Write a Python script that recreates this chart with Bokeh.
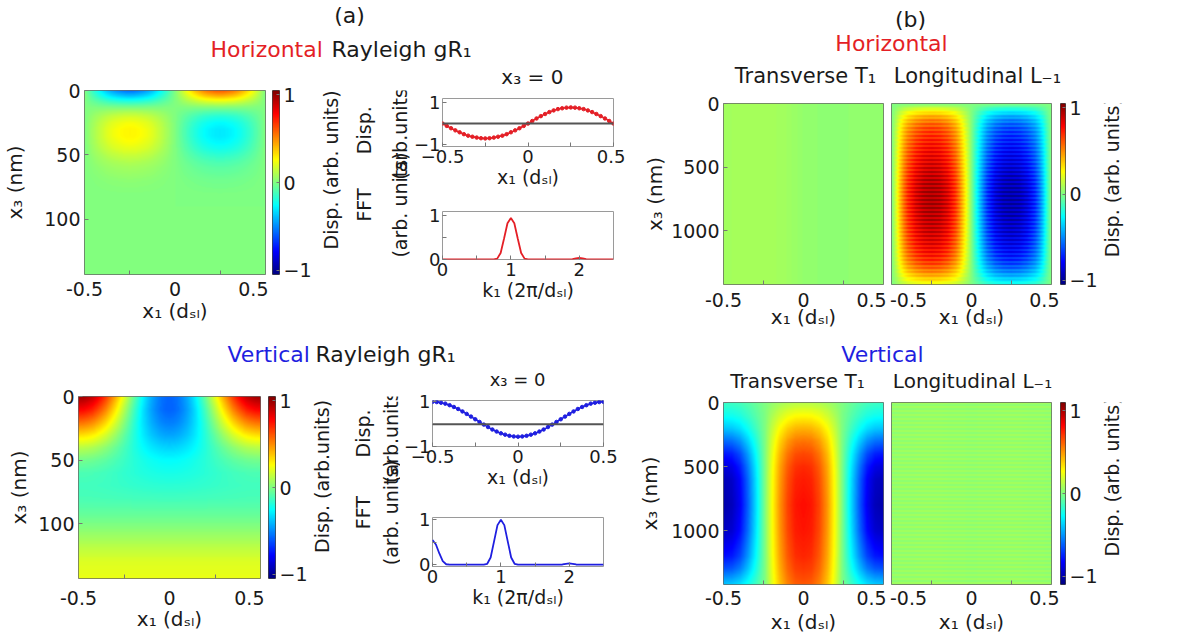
import numpy as np
from bokeh.plotting import figure
from bokeh.layouts import row, column
from bokeh.models import Range1d, FixedTicker, LinearColorMapper, Span
from bokeh.core.properties import value
from bokeh.embed import file_html
from bokeh.resources import INLINE

FONT = "DejaVu Sans"
TICK_FS = "19px"
SMALL_TICK_FS = "18px"
LAB_FS = "19px"
XLAB_FS = "20px"
TITLE_FS = "21px"
HEAD_FS = "22px"
RED = "#e41f26"
BLUE = "#1f1fe0"
INK = "#1a1a1a"

# ---------------- data ----------------
x1_line = np.linspace(-0.5, 0.5, 41)
disp_h = [0.00, -0.11, -0.22, -0.32, -0.41, -0.50, -0.57, -0.62, -0.66, -0.69, -0.70,
          -0.69, -0.66, -0.62, -0.57, -0.50, -0.41, -0.32, -0.22, -0.11, 0.00,
          0.12, 0.24, 0.35, 0.45, 0.54, 0.62, 0.68, 0.72, 0.75, 0.76,
          0.75, 0.72, 0.68, 0.62, 0.54, 0.45, 0.35, 0.24, 0.12, 0.00]
disp_v = [1.00, 0.99, 0.96, 0.92, 0.85, 0.77, 0.68, 0.57, 0.46, 0.34, 0.22,
          0.10, -0.02, -0.13, -0.24, -0.33, -0.41, -0.47, -0.52, -0.55, -0.56,
          -0.55, -0.52, -0.47, -0.41, -0.33, -0.24, -0.13, -0.02, 0.10, 0.22,
          0.34, 0.46, 0.57, 0.68, 0.77, 0.85, 0.92, 0.96, 0.99, 1.00]
k1 = np.linspace(0, 2.5, 51)
fft_h = [0, 0, 0, 0, 0, 0, 0, 0, 0, 0, 0, 0, 0, 0, 0,
         0.005, 0.02, 0.15, 0.48, 0.83, 0.95, 0.83, 0.48, 0.15, 0.02,
         0.005, 0, 0, 0, 0, 0, 0, 0, 0, 0, 0, 0, 0, 0.01, 0.025,
         0.035, 0.025, 0.01, 0, 0, 0, 0, 0, 0, 0, 0]
fft_v = [0.55, 0.45, 0.25, 0.08, 0.01, 0, 0, 0, 0, 0, 0, 0, 0, 0, 0,
         0, 0.02, 0.16, 0.52, 0.88, 1.0, 0.88, 0.52, 0.16, 0.02,
         0, 0, 0, 0, 0, 0, 0, 0, 0, 0, 0, 0, 0, 0.005, 0.02,
         0.03, 0.02, 0.005, 0, 0, 0, 0, 0, 0, 0, 0]

# (a) Rayleigh gR1 maps, depth 0..143 nm
x3_max_a = 143.0
hR_x3 = [0, 4, 8, 12, 16, 20, 25, 30, 35, 40, 45, 50, 55, 60, 70, 80, 90, 143]
hR_depth = [0.78, 0.55, 0.28, 0.05, -0.12, -0.25, -0.35, -0.4, -0.4, -0.36, -0.3,
            -0.22, -0.15, -0.1, -0.04, -0.01, 0.0, 0.0]
vR_x3 = [0, 10, 20, 30, 40, 50, 60, 70, 80, 90, 100, 110, 120, 130, 143]
vR_mean = [0.22, 0.12, 0.03, -0.05, -0.11, -0.14, -0.16, -0.15, -0.12, -0.07, -0.01,
           0.06, 0.13, 0.19, 0.22]
vR_amp = [1.0, 0.88, 0.7, 0.5, 0.3, 0.15, 0.07, 0.03, 0.01, 0.0, 0.0, 0.0, 0.0, 0.0, 0.0]

# (b) T1 / L-1 maps, depth 0..1420 nm
x3_max_b = 1420.0
hT_x1 = [-0.5, -0.375, -0.25, -0.125, 0.0, 0.125, 0.25, 0.375, 0.5]
hT_val = [0.07, 0.08, 0.08, 0.07, 0.04, 0.03, 0.03, 0.04, 0.04]
hL_x1 = [-0.5, -0.475, -0.45, -0.425, -0.4, -0.35, -0.3, -0.25, -0.2, -0.15, -0.1, -0.075,
         -0.05, -0.025, 0.0, 0.025, 0.05, 0.075, 0.1, 0.15, 0.2, 0.25, 0.3, 0.35, 0.4,
         0.425, 0.45, 0.475, 0.5]
hL_val = [0.0, 0.18, 0.4, 0.58, 0.72, 0.88, 0.97, 1.0, 0.97, 0.88, 0.7, 0.55, 0.38, 0.2,
          0.0, -0.2, -0.38, -0.55, -0.7, -0.88, -0.97, -1.0, -0.97, -0.88, -0.72, -0.58,
          -0.4, -0.18, 0.0]
hL_x3 = [0, 30, 60, 100, 150, 200, 300, 400, 500, 600, 700, 800, 900, 1000, 1100, 1200,
         1250, 1300, 1350, 1400, 1420]
hL_env = [0.0, 0.15, 0.3, 0.45, 0.58, 0.66, 0.75, 0.82, 0.88, 0.94, 0.97, 0.97, 0.94, 0.9,
          0.84, 0.75, 0.68, 0.58, 0.45, 0.3, 0.22]
hL_stripe = [1.12, 1.0, 0.86, 1.0]
vT_x1 = [-0.5, -0.45, -0.4, -0.35, -0.3, -0.25, -0.2, -0.15, -0.1, -0.05, 0.0, 0.05, 0.1,
         0.15, 0.2, 0.25, 0.3, 0.35, 0.4, 0.45, 0.5]
vT_val = [-1.0, -0.97, -0.85, -0.62, -0.35, -0.05, 0.25, 0.5, 0.68, 0.78, 0.8, 0.78, 0.68,
          0.5, 0.25, -0.05, -0.35, -0.62, -0.85, -0.97, -1.0]
vT_x3 = [0, 100, 200, 300, 400, 500, 600, 800, 1000, 1200, 1300, 1420]
vT_env_pos = [0.15, 0.35, 0.55, 0.72, 0.84, 0.92, 0.96, 1.0, 0.98, 0.93, 0.88, 0.8]
vT_env_neg = [0.15, 0.25, 0.4, 0.6, 0.78, 0.9, 0.97, 1.0, 0.95, 0.8, 0.65, 0.4]
vL_x1 = [-0.5, -0.25, 0.0, 0.25, 0.5]
vL_val = [0.03, 0.04, 0.03, 0.04, 0.03]
vL_stripe = [0.05, 0.02, -0.02, 0.02]


# ---------------- helpers ----------------
def jet_palette(n=256):
    out = []
    for i in range(n):
        t = i / (n - 1)
        r = min(max(1.5 - abs(4 * t - 3), 0), 1)
        g = min(max(1.5 - abs(4 * t - 2), 0), 1)
        b = min(max(1.5 - abs(4 * t - 1), 0), 1)
        out.append("#%02x%02x%02x" % (round(r * 255), round(g * 255), round(b * 255)))
    return out


JET = jet_palette()


def new_fig(w, h, xr, yr, bl, br, bt, bb, **kw):
    p = figure(width=w, height=h, x_range=xr, y_range=yr,
               min_border_left=bl, min_border_right=br, min_border_top=bt, min_border_bottom=bb,
               toolbar_location=None, tools="", output_backend="svg", **kw)
    p.grid.visible = False
    p.outline_line_color = "#666666"
    p.border_fill_color = "white"
    return p


def style_axis(ax, ticks, overrides=None, label=None, tick_standoff=3, label_standoff=0,
               tick_fs=TICK_FS, minor=None, lab_fs=XLAB_FS):
    ax.ticker = FixedTicker(ticks=ticks, minor_ticks=minor or [])
    if overrides:
        ax.major_label_overrides = overrides
    ax.major_label_text_font = FONT
    ax.major_label_text_font_size = tick_fs
    ax.major_label_text_color = INK
    ax.major_label_standoff = tick_standoff
    ax.axis_line_color = None
    ax.major_tick_in = 4
    ax.major_tick_out = 0
    ax.major_tick_line_color = "#777777"
    ax.minor_tick_in = 4
    ax.minor_tick_out = 0
    ax.minor_tick_line_color = "#777777" if minor else None
    if label is not None:
        ax.axis_label = label
        ax.axis_label_text_font = FONT
        ax.axis_label_text_font_size = lab_fs
        ax.axis_label_text_font_style = "normal"
        ax.axis_label_text_color = INK
        ax.axis_label_standoff = label_standoff


def text_fig(w, h):
    p = figure(width=w, height=h, x_range=Range1d(0, w), y_range=Range1d(h, 0),
               min_border=0, toolbar_location=None, tools="", output_backend="svg",
               x_axis_location=None, y_axis_location=None)
    p.grid.visible = False
    p.outline_line_color = None
    return p


def put_text(p, x, y, s, size, color=INK, align="center", angle=0.0):
    p.text(x=[x], y=[y], text=[s], text_font=value(FONT), text_font_size=size,
           text_color=color, text_align=align, text_baseline="middle", angle=angle)


def heat_fig(w, h, bl, br, bt, bb, field, x3max, lo, hi, yticks, show_y,
             ylab_standoff, xtick_standoff, xlab_standoff, left_c=None, right_c=None):
    """left_c/right_c: pixel centre (inside the figure) wanted for the -0.5 / 0.5 labels,
    nudged inwards like in the reference so they do not collide with neighbours."""
    fw = w - bl - br
    xl = -0.5 if left_c is None else -0.5 + (left_c - bl) / fw
    xr = 0.5 if right_c is None else -0.5 + (right_c - bl) / fw
    p = new_fig(w, h, Range1d(-0.5, 0.5), Range1d(x3max, 0), bl, br, bt, bb,
                y_axis_location="left" if show_y else None)
    mapper = LinearColorMapper(palette=JET, low=lo, high=hi)
    p.image(image=[field], x=-0.5, y=0, dw=1.0, dh=x3max, color_mapper=mapper)
    ov = {xl: "-0.5", 0: "0", xr: "0.5"}
    style_axis(p.xaxis[0], [xl, 0, xr], ov, "x₁ (dₛₗ)", tick_standoff=xtick_standoff,
               label_standoff=xlab_standoff, minor=[-0.25, 0.25])
    p.xaxis[0].major_tick_in = 0
    if show_y:
        style_axis(p.yaxis[0], yticks, None, "x₃ (nm)", tick_standoff=4,
                   label_standoff=ylab_standoff)
    return p


def cbar_fig(w, h, bl, br, bt, bb, lo, hi):
    p = new_fig(w, h, Range1d(0, 1), Range1d(lo, hi), bl, br, bt, bb,
                x_axis_location=None, y_axis_location="right")
    grad = np.linspace(lo, hi, 256).reshape(256, 1)
    p.image(image=[grad], x=0, y=lo, dw=1, dh=hi - lo,
            color_mapper=LinearColorMapper(palette=JET, low=lo, high=hi))
    p.outline_line_color = "#444444"
    ax = p.yaxis[0]
    style_axis(ax, [-1, 0, 1], None, None, tick_standoff=4)
    ax.major_tick_in = 3
    return p


def line_fig(w, h, bl, br, bt, bb, xs, ys, color, ylo, yhi):
    p = new_fig(w, h, Range1d(-0.5, 0.5), Range1d(ylo, yhi), bl, br, bt, bb)
    p.outline_line_color = "#9a9a9a"
    p.add_layout(Span(location=0, dimension="width", line_color="#555555", line_width=2))
    p.line(xs, ys, line_color=color, line_width=1.5)
    p.scatter(xs, ys, size=3.5, color=color)
    style_axis(p.xaxis[0], [-0.5, -0.25, 0, 0.25, 0.5], {-0.25: "", 0.25: ""},
               "x₁ (dₛₗ)", tick_standoff=3, label_standoff=0, tick_fs=SMALL_TICK_FS,
               lab_fs=LAB_FS)
    style_axis(p.yaxis[0], [-1, 0, 1], {0: ""}, None, tick_standoff=2, tick_fs=SMALL_TICK_FS)
    return p


def fft_fig(w, h, bl, br, bt, bb, ys, color, ylo, yhi):
    p = new_fig(w, h, Range1d(0, 2.5), Range1d(ylo, yhi), bl, br, bt, bb)
    p.outline_line_color = "#9a9a9a"
    p.line(k1, ys, line_color=color, line_width=1.8)
    style_axis(p.xaxis[0], [0, 0.5, 1, 1.5, 2], {0.5: "", 1.5: ""},
               "k₁ (2π/dₛₗ)", tick_standoff=3, label_standoff=0, tick_fs=SMALL_TICK_FS,
               lab_fs=LAB_FS)
    style_axis(p.yaxis[0], [0, 0.5, 1], {0.5: ""}, None, tick_standoff=2, tick_fs=SMALL_TICK_FS)
    return p


def grid_xz(nx, ny, x3max):
    gx = np.linspace(-0.5, 0.5, nx)
    gz = np.linspace(0, x3max, ny)
    return gx, gz


# ---------------- fields ----------------
gx, gz = grid_xz(183, 184, x3_max_a)
f_hR = np.interp(gz, hR_x3, hR_depth)[:, None] * np.interp(gx, x1_line, disp_h)[None, :]

gx, gz = grid_xz(182, 182, x3_max_a)
osc = np.interp(gx, x1_line, disp_v) - np.mean(disp_v)
f_vR = np.interp(gz, vR_x3, vR_mean)[:, None] + np.interp(gz, vR_x3, vR_amp)[:, None] * osc[None, :]

gx, gz = grid_xz(160, 181, x3_max_b)
f_hT = np.tile(np.interp(gx, hT_x1, hT_val)[None, :], (181, 1))
stripe = np.array([hL_stripe[i % len(hL_stripe)] for i in range(181)])
f_hL = (np.interp(gz, hL_x3, hL_env) * stripe)[:, None] * np.interp(gx, hL_x1, hL_val)[None, :]

gx, gz = grid_xz(160, 182, x3_max_b)
xp = np.interp(gx, vT_x1, vT_val)[None, :]
f_vT = np.where(xp > 0, xp * np.interp(gz, vT_x3, vT_env_pos)[:, None],
                xp * np.interp(gz, vT_x3, vT_env_neg)[:, None])
stripe_v = np.array([vL_stripe[i % len(vL_stripe)] for i in range(182)])
f_vL = np.interp(gx, vL_x1, vL_val)[None, :] + stripe_v[:, None]

# ---------------- header of the upper half (y 0..62) ----------------
hdr1 = text_fig(1192, 62)
put_text(hdr1, 349, 15, "(a)", HEAD_FS)
put_text(hdr1, 210, 49, "Horizontal", HEAD_FS, RED, "left")
put_text(hdr1, 331, 49, "Rayleigh gR₁", HEAD_FS, INK, "left")
put_text(hdr1, 910, 19, "(b)", HEAD_FS)
put_text(hdr1, 891, 43, "Horizontal", HEAD_FS, RED)

# ---------------- row 1 (y 62..340) ----------------
H1 = 278
a1_heat = heat_fig(268, H1, 82, 3, 28, 66, f_hR, x3_max_a, -1.05, 1.05, [0, 50, 100], True,
                   14, 7, 0, right_c=253)
a1_cb = cbar_fig(46, H1, 4, 23, 28, 66, -1.05, 1.05)

a1_lab = text_fig(96, H1)
put_text(a1_lab, 16, 120, "Disp. (arb. units)", LAB_FS, angle=np.pi / 2)
put_text(a1_lab, 49, 60, "Disp.", LAB_FS, angle=np.pi / 2)
put_text(a1_lab, 85, 60, "(arb.units)", LAB_FS, angle=np.pi / 2)
put_text(a1_lab, 49, 173, "FFT", LAB_FS, angle=np.pi / 2)
put_text(a1_lab, 85, 173, "(arb. units)", LAB_FS, angle=np.pi / 2)

a1_tit = text_fig(215, 26)
put_text(a1_tit, 113, 14, "x₃ = 0", "20px")
a1_line = line_fig(215, 113, 23, 12, 10, 55, x1_line, disp_h, RED, -1.08, 1.18)
a1_fft = fft_fig(215, 139, 23, 12, 10, 81, fft_h, RED, 0, 1.1)
a1_col = column(a1_tit, a1_line, a1_fft, spacing=0)

b1_tit = text_fig(567, 29)
put_text(b1_tit, 180, 13, "Transverse T₁", TITLE_FS)
put_text(b1_tit, 352, 13, "Longitudinal L₋₁", TITLE_FS)
HB1 = H1 - 29
b1_T = heat_fig(262, HB1, 98, 4, 12, 56, f_hT, x3_max_b, -1.05, 1.05, [0, 500, 1000], True,
                1, 8, -5, right_c=246)
b1_L = heat_fig(172, HB1, 4, 8, 12, 56, f_hL, x3_max_b, -1.05, 1.05, [0, 500, 1000], False,
                0, 8, -5, left_c=21, right_c=157)
b1_cb = cbar_fig(41, HB1, 1, 23, 12, 56, -1.05, 1.05)
b1_cblab = text_fig(92, HB1)
put_text(b1_cblab, 11, 102, "Disp. (arb. units)", LAB_FS, angle=np.pi / 2)
b1_col = column(b1_tit, row(b1_T, b1_L, b1_cb, b1_cblab, spacing=0), spacing=0)

row1 = row(a1_heat, a1_cb, a1_lab, a1_col, b1_col, spacing=0)

# ---------------- header of the lower half (y 340..368) ----------------
hdr2 = text_fig(1192, 28)
put_text(hdr2, 227, 14, "Vertical", HEAD_FS, BLUE, "left")
put_text(hdr2, 315, 14, "Rayleigh gR₁", HEAD_FS, INK, "left")
put_text(hdr2, 882, 14, "Vertical", HEAD_FS, BLUE)

# ---------------- row 2 (y 368..639) ----------------
H2 = 271
a2_heat = heat_fig(264, H2, 78, 4, 28, 61, f_vR, x3_max_a, -1.05, 1.05, [0, 50, 100], True,
                   4, 12, -1, right_c=249)
a2_cb = cbar_fig(46, H2, 4, 24, 28, 61, -1.05, 1.05)

a2_lab = text_fig(90, H2)
put_text(a2_lab, 11, 119, "Disp. (arb.units)", LAB_FS, angle=np.pi / 2)
put_text(a2_lab, 52, 55, "Disp.", LAB_FS, angle=np.pi / 2)
put_text(a2_lab, 80, 55, "(arb.units)", LAB_FS, angle=np.pi / 2)
put_text(a2_lab, 52, 173, "FFT", LAB_FS, angle=np.pi / 2)
put_text(a2_lab, 80, 173, "(arb. units)", LAB_FS, angle=np.pi / 2)

a2_tit = text_fig(225, 22)
put_text(a2_tit, 112, 11, "x₃ = 0", "18px")
a2_line = line_fig(225, 113, 21, 22, 10, 57, x1_line, disp_v, BLUE, -1.0, 1.06)
a2_fft = fft_fig(225, 136, 21, 22, 14, 73, fft_v, BLUE, -0.04, 1.05)
a2_col = column(a2_tit, a2_line, a2_fft, spacing=0)

b2_tit = text_fig(567, 24)
put_text(b2_tit, 172, 12.5, "Transverse T₁", "20px")
put_text(b2_tit, 347, 12.5, "Longitudinal L₋₁", "20px")
HB2 = H2 - 24
b2_T = heat_fig(262, HB2, 98, 4, 10, 55, f_vT, x3_max_b, -1.1, 1.1, [0, 500, 1000], True,
                6, 6, 2, right_c=246)
b2_L = heat_fig(172, HB2, 4, 8, 10, 55, f_vL, x3_max_b, -1.1, 1.1, [0, 500, 1000], False,
                0, 6, 2, left_c=21, right_c=157)
b2_cb = cbar_fig(41, HB2, 1, 23, 10, 55, -1.1, 1.1)
b2_cblab = text_fig(92, HB2)
put_text(b2_cblab, 11, 101, "Disp. (arb. units)", LAB_FS, angle=np.pi / 2)
b2_col = column(b2_tit, row(b2_T, b2_L, b2_cb, b2_cblab, spacing=0), spacing=0)

row2 = row(a2_heat, a2_cb, a2_lab, a2_col, b2_col, spacing=0)

layout = column(hdr1, row1, hdr2, row2, spacing=0)

open("out.html", "w").write(file_html(layout, INLINE))
